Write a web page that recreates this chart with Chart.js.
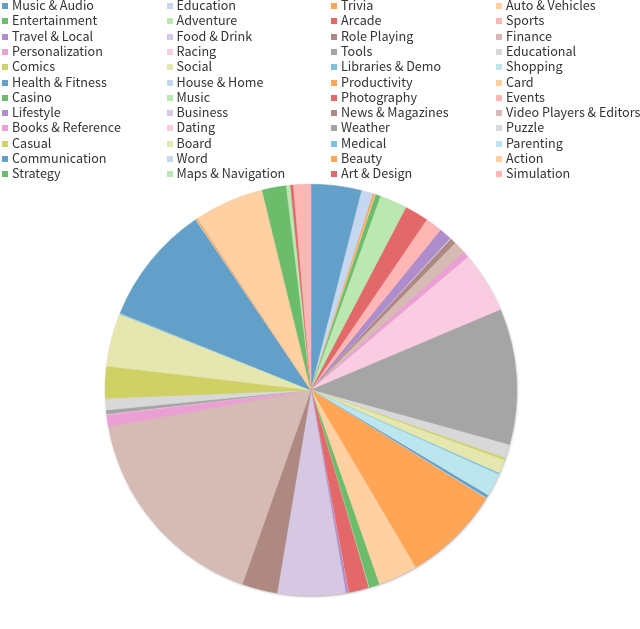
<!DOCTYPE html>
<html>
<head>
<meta charset="utf-8">
<script src="https://cdn.jsdelivr.net/npm/chart.js@4"></script>
<style>
  html, body { margin: 0; padding: 0; background: #fff; }
  #wrap { position: relative; width: 640px; height: 629px; overflow: hidden; }
  #c { position: absolute; left: 0; top: 0; }
  #legend { position: absolute; left: 0; top: 0; width: 640px; height: 180px; font-family: "Noto Sans CJK SC", "Noto Sans", sans-serif; font-size: 12.6px; color: #333; }
  .item { position: absolute; height: 15px; line-height: 15px; white-space: nowrap; }
  .box { display: inline-block; width: 6px; height: 6px; margin-right: 4px; vertical-align: 1px; }
</style>
</head>
<body>
<div id="wrap">
  <canvas id="c" width="640" height="629"></canvas>
  <div id="legend"></div>
</div>
<script>
const categories = [
  "Music & Audio", "Education", "Trivia", "Auto & Vehicles",
  "Entertainment", "Adventure", "Arcade", "Sports",
  "Travel & Local", "Food & Drink", "Role Playing", "Finance",
  "Personalization", "Racing", "Tools", "Educational",
  "Comics", "Social", "Libraries & Demo", "Shopping",
  "Health & Fitness", "House & Home", "Productivity", "Card",
  "Casino", "Music", "Photography", "Events",
  "Lifestyle", "Business", "News & Magazines", "Video Players & Editors",
  "Books & Reference", "Dating", "Weather", "Puzzle",
  "Casual", "Board", "Medical", "Parenting",
  "Communication", "Word", "Beauty", "Action",
  "Strategy", "Maps & Navigation", "Art & Design", "Simulation"
];

// Share of each category (in degrees of 360)
const shares = [
  14.3, 3.3, 0.5, 0.3,
  1.4, 7.8, 6.7, 4.8,
  3.5, 0.3, 1.6, 3.5,
  1.8, 17.3, 38.4, 3.9,
  0.6, 3.9, 0.4, 6.5,
  0.8, 0.2, 27.7, 11.2,
  2.9, 0.2, 5.7, 0.1,
  0.7, 19.2, 10.0, 60.3,
  3.3, 0.2, 1.1, 3.3,
  9.0, 15.0, 0.2, 0.1,
  33.9, 0.2, 0.4, 19.8,
  6.8, 1.2, 0.8, 4.9
];

const palette = [
  "#62a0ca", "#c6d8ef", "#ffa556", "#ffd0a1",
  "#6bbc6b", "#bae8b0", "#e26869", "#ffb6b5",
  "#ad8dcb", "#d6c8e2", "#ae8981", "#d6bab4",
  "#eb9fd4", "#f9cce1", "#a5a5a5", "#d8d8d8",
  "#d0d164", "#e6e6af", "#7fc2dc", "#bce5ee"
];

const colors = categories.map((_, i) => palette[i % palette.length]);

// HTML legend in a 4-column grid
const legendEl = document.getElementById('legend');
const colX = [2, 166.5, 331, 496];
const rowPitch = 15.3;
categories.forEach((name, i) => {
  const col = i % 4, row = Math.floor(i / 4);
  const d = document.createElement('div');
  d.className = 'item';
  d.style.left = colX[col] + 'px';
  d.style.top = (row * rowPitch - 3) + 'px';
  const b = document.createElement('span');
  b.className = 'box';
  b.style.background = colors[i];
  d.appendChild(b);
  d.appendChild(document.createTextNode(name));
  legendEl.appendChild(d);
});

// soft shadow under the pie, drawn from the arc element geometry
const pieShadow = {
  id: 'pieShadow',
  beforeDatasetsDraw(chart) {
    const arc = chart.getDatasetMeta(0).data[0];
    if (!arc) return;
    const ctx = chart.ctx;
    ctx.save();
    ctx.shadowColor = 'rgba(0,0,0,0.45)';
    ctx.shadowBlur = 3;
    ctx.shadowOffsetX = 0.5;
    ctx.shadowOffsetY = 1;
    ctx.beginPath();
    ctx.arc(arc.x, arc.y, arc.outerRadius - 0.5, 0, Math.PI * 2);
    ctx.fillStyle = '#bbb';
    ctx.fill();
    ctx.restore();
  }
};

new Chart(document.getElementById('c'), {
  type: 'pie',
  data: {
    labels: categories,
    datasets: [{
      data: shares,
      backgroundColor: colors,
      borderColor: colors,
      borderWidth: 0.6
    }]
  },
  options: {
    responsive: false,
    animation: false,
    rotation: 0,
    layout: { padding: { top: 183, bottom: 32, left: 105, right: 123 } },
    plugins: {
      legend: { display: false },
      tooltip: { enabled: false }
    }
  },
  plugins: [pieShadow]
});
</script>
</body>
</html>
